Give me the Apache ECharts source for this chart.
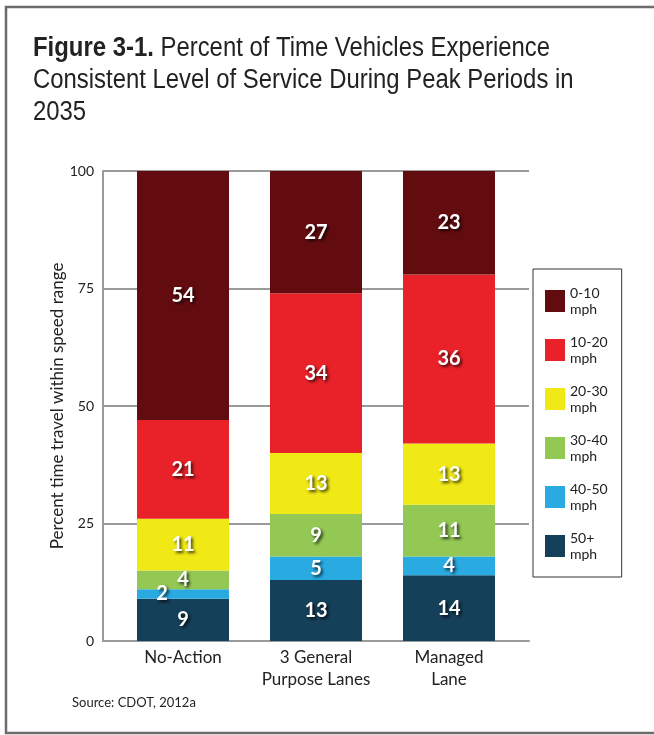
<!DOCTYPE html>
<html>
<head>
<meta charset="utf-8">
<script src="https://cdn.jsdelivr.net/npm/echarts@6/dist/echarts.min.js"></script>
<style>
  html, body { margin: 0; padding: 0; background: #ffffff; }
  #chart { width: 654px; height: 735px; }
</style>
</head>
<body>
<div id="chart"></div>
<script>
// Scenario categories along the x axis
const categories = ['No-Action', '3 General\nPurpose Lanes', 'Managed\nLane'];

// Speed ranges, stacked from the bottom up
const speedRanges = ['50+ mph', '40-50 mph', '30-40 mph', '20-30 mph', '10-20 mph', '0-10 mph'];

// Percent of peak-period travel time in each speed range, per scenario
const mph50plus = [9, 13, 14];
const mph40to50 = [2, 5, 4];
const mph30to40 = [4, 9, 11];
const mph20to30 = [11, 13, 13];
const mph10to20 = [21, 34, 36];
const mph0to10  = [54, 27, 23];

// Value axis ticks
const yTicks = [0, 25, 50, 75, 100];

const seriesValues = [mph50plus, mph40to50, mph30to40, mph20to30, mph10to20, mph0to10];
const colors = ['#15405a', '#29aae1', '#93c854', '#f0e916', '#e92229', '#630c10'];

const bodyFont = 'Lato, "Open Sans", sans-serif';
const titleFont = '"Liberation Sans", Arial, sans-serif';

const chart = echarts.init(document.getElementById('chart'), null, { renderer: 'canvas' });

const series = speedRanges.map((name, i) => ({
  name: name,
  type: 'bar',
  stack: 'total',
  xAxisIndex: 1,
  yAxisIndex: 1,
  barWidth: 92,
  itemStyle: { color: colors[i] },
  data: seriesValues[i].map(v => ({
    value: v,
    // very thin segments get their label nudged to the left so it stays legible
    label: v < 3 ? { offset: [-21, 0] } : undefined
  })),
  label: {
    show: true,
    position: 'inside',
    color: '#ffffff',
    fontFamily: bodyFont,
    fontWeight: 'bold',
    fontSize: 20,
    textShadowColor: 'rgba(0,0,0,0.75)',
    textShadowBlur: 3,
    textShadowOffsetX: 2,
    textShadowOffsetY: 2
  }
}));

const option = {
  animation: false,
  backgroundColor: '#ffffff',
  legend: {
    orient: 'vertical',
    left: 533,
    top: 269,
    data: speedRanges.slice().reverse(),
    icon: 'rect',
    itemWidth: 20,
    itemHeight: 22,
    itemGap: 17,
    padding: [16, 14, 15, 12],
    borderColor: '#333333',
    borderWidth: 1,
    formatter: name => name.replace(' ', '\n'),
    textStyle: {
      fontFamily: bodyFont,
      fontSize: 14,
      lineHeight: 16,
      color: '#222222'
    }
  },
  grid: [
    { left: 103, right: 125, top: 171, bottom: 94 },
    { left: 116.5, width: 399, top: 171, bottom: 94 }
  ],
  xAxis: [
    {
      type: 'category',
      gridIndex: 0,
      data: categories,
      axisLine: { show: true, lineStyle: { color: '#9a9a9a', width: 2 } },
      axisTick: { show: false },
      axisLabel: { show: false }
    },
    {
      type: 'category',
      gridIndex: 1,
      data: categories,
      axisLine: { show: false },
      axisTick: { show: false },
      axisLabel: {
        interval: 0,
        hideOverlap: false,
        margin: 6,
        fontFamily: bodyFont,
        fontSize: 17,
        lineHeight: 22,
        color: '#222222'
      }
    }
  ],
  yAxis: [
    {
      type: 'value',
      gridIndex: 0,
      min: yTicks[0],
      max: yTicks[yTicks.length - 1],
      interval: yTicks[1] - yTicks[0],
      name: 'Percent time travel within speed range',
      nameLocation: 'middle',
      nameGap: 37,
      nameMoveOverlap: false,
      nameTextStyle: { fontFamily: bodyFont, fontSize: 17, color: '#222222' },
      axisLine: { show: true, lineStyle: { color: '#9a9a9a', width: 2 } },
      axisTick: { show: false },
      splitLine: { show: true, lineStyle: { color: '#9a9a9a', width: 2 } },
      axisLabel: { margin: 9, fontFamily: bodyFont, fontSize: 14, color: '#222222' }
    },
    {
      type: 'value',
      gridIndex: 1,
      min: yTicks[0],
      max: yTicks[yTicks.length - 1],
      show: false,
      splitLine: { show: false }
    }
  ],
  series: series,
  graphic: [
    {
      // figure caption, set in a condensed face
      type: 'text',
      x: 33,
      y: 33,
      scaleX: 0.885,
      style: {
        text: '{b|Figure 3-1.} Percent of Time Vehicles Experience\nConsistent Level of Service During Peak Periods in\n2035',
        fontFamily: titleFont,
        fontSize: 27,
        lineHeight: 32,
        fill: '#222222',
        rich: {
          b: { fontFamily: titleFont, fontSize: 27, lineHeight: 32, fontWeight: 'bold', fill: '#222222' }
        }
      }
    },
    {
      type: 'polyline',
      z: 100,
      shape: { points: [[654, 7], [6, 7], [6, 733], [654, 733]] },
      style: { fill: null, stroke: '#6b6b6b', lineWidth: 2.5 }
    },
    {
      type: 'text',
      left: 72,
      top: 696,
      style: {
        text: 'Source: CDOT, 2012a',
        fontFamily: bodyFont,
        fontSize: 13,
        fill: '#222222'
      }
    }
  ]
};

chart.setOption(option);
</script>
</body>
</html>
